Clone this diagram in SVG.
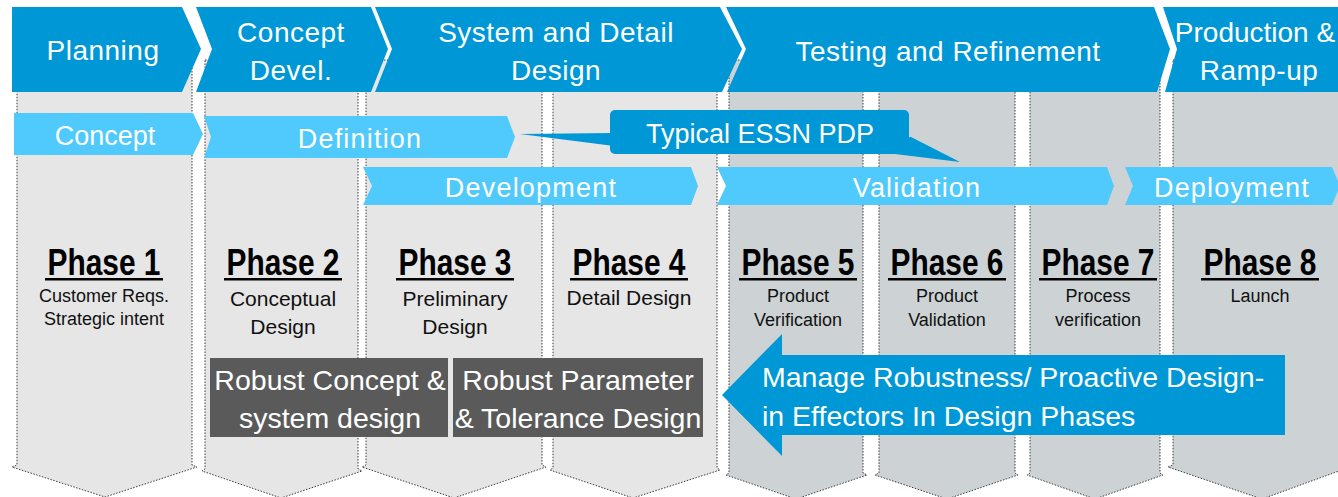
<svg xmlns="http://www.w3.org/2000/svg" width="1338" height="497" viewBox="0 0 1338 497">
  <style>
    .col-a { fill: #e6e6e6; stroke: #3a3a3a; stroke-width: 1; stroke-dasharray: 1.5 1.5; }
    .col-b { fill: #cdd3d4; stroke: #3a3a3a; stroke-width: 1; stroke-dasharray: 1.5 1.5; }
    .stage { fill: #0097d6; }
    .sub { fill: #50c9fc; }
    .dark { fill: #5a5a5a; }
    .t { font-family: "Liberation Sans", Arial, sans-serif; text-anchor: middle; }
    .hdr { font-size: 28px; fill: #ffffff; letter-spacing: 0.5px; }
    .bar { font-size: 27px; fill: #ffffff; }
    .wide { letter-spacing: 1.2px; }
    .ph { font-size: 36px; font-weight: bold; fill: #000000; }
    .ul { fill: #000000; }
    .d18 { font-size: 18px; fill: #111111; }
    .d21 { font-size: 21px; fill: #111111; }
    .box { font-size: 28.5px; fill: #ffffff; }
  </style>

  <rect width="1338" height="497" fill="#ffffff"/>

  <!-- phase columns (downward chevrons) -->
  <g id="columns">
    <polygon id="col1" class="col-a" points="17,60 192,60 192,465 197,467 105,497 12,467 17,465"/>
    <polygon id="col2" class="col-a" points="205,60 358,60 358,469 362,471 281,498 202,471 205,469"/>
    <polygon id="col3" class="col-a" points="366,60 542,60 542,465 546,467 454,498 362,467 366,465"/>
    <polygon id="col4" class="col-a" points="553,60 717,60 717,468 720,470 633,498 550,470 553,468"/>
    <polygon id="col5" class="col-b" points="729,60 863,60 863,473 867,475 796,499 726,475 729,473"/>
    <polygon id="col6" class="col-b" points="879,60 1015,60 1015,473 1018,475 947,499 875,475 879,473"/>
    <polygon id="col7" class="col-b" points="1030,60 1160,60 1160,473 1163,475 1095,499 1027,475 1030,473"/>
    <polygon id="col8" class="col-b" points="1173,60 1350,60 1350,467 1262,499 1168,467 1173,465"/>
  </g>

  <!-- stage headers -->
  <g id="stage-planning">
    <polygon class="stage" points="12,7 182,7 201,49 182,92 12,92"/>
    <text class="t hdr" x="103" y="60">Planning</text>
  </g>
  <g id="stage-concept-devel">
    <polygon class="stage" points="196,7 371,7 388,49 371,92 196,92 212,49"/>
    <text class="t hdr" x="291" y="42">Concept</text>
    <text class="t hdr" x="291" y="80">Devel.</text>
  </g>
  <g id="stage-system-detail">
    <polygon class="stage" points="375,7 720,7 742,49 722,92 375,92 392,49"/>
    <text class="t hdr" x="556" y="42">System and Detail</text>
    <text class="t hdr" x="556" y="80">Design</text>
  </g>
  <g id="stage-testing">
    <polygon class="stage" points="726,7 1154,7 1170,49 1157,92 727,92 746,49"/>
    <text class="t hdr" x="948" y="61">Testing and Refinement</text>
  </g>
  <g id="stage-production">
    <polygon class="stage" points="1163,7 1345,7 1345,92 1165,92 1177,49"/>
    <text class="t hdr" x="1255" y="42" style="letter-spacing:0">Production &amp;</text>
    <text class="t hdr" x="1259" y="80">Ramp-up</text>
  </g>

  <!-- sub-stage bars -->
  <g id="bar-concept">
    <polygon class="sub" points="14,113 193,113 203,134 193,155 14,155"/>
    <text class="t bar" x="105" y="145">Concept</text>
  </g>
  <g id="bar-definition">
    <polygon class="sub" points="204,116 507,116 515,137 507,158 204,158 211,137"/>
    <text class="t bar wide" x="360" y="148">Definition</text>
  </g>
  <g id="bar-development">
    <polygon class="sub" points="363,167 691,167 698,186 691,205 363,205 372,186"/>
    <text class="t bar wide" x="531" y="197">Development</text>
  </g>
  <g id="bar-validation">
    <polygon class="sub" points="717,167 1107,167 1114,186 1107,205 717,205 726,186"/>
    <text class="t bar wide" x="917" y="197">Validation</text>
  </g>
  <g id="bar-deployment">
    <polygon class="sub" points="1125,167 1332,167 1340,186 1332,205 1125,205 1133,186"/>
    <text class="t bar wide" x="1232" y="197">Deployment</text>
  </g>

  <!-- callout pointers -->
  <g id="connectors">
    <polygon class="stage" points="520,134 614,133 614,146"/>
    <polygon class="stage" points="900,138 911,137 960,162 895,154"/>
  </g>

  <g id="callout-pdp">
    <rect class="stage" x="610" y="110" width="299" height="44" rx="5"/>
    <text class="t bar" x="760" y="143">Typical ESSN PDP</text>
  </g>

  <!-- phase labels -->
  <g id="phase1">
    <text class="t ph" x="104" y="275" textLength="113" lengthAdjust="spacingAndGlyphs">Phase 1</text>
    <rect class="ul" x="45" y="278" width="118" height="2.5"/>
    <text class="t d18" x="104" y="302">Customer Reqs.</text>
    <text class="t d18" x="104" y="325">Strategic intent</text>
  </g>
  <g id="phase2">
    <text class="t ph" x="283" y="275" textLength="113" lengthAdjust="spacingAndGlyphs">Phase 2</text>
    <rect class="ul" x="224" y="278" width="118" height="2.5"/>
    <text class="t d21" x="283" y="306">Conceptual</text>
    <text class="t d21" x="283" y="334">Design</text>
  </g>
  <g id="phase3">
    <text class="t ph" x="455" y="275" textLength="113" lengthAdjust="spacingAndGlyphs">Phase 3</text>
    <rect class="ul" x="396" y="278" width="118" height="2.5"/>
    <text class="t d21" x="455" y="306">Preliminary</text>
    <text class="t d21" x="455" y="334">Design</text>
  </g>
  <g id="phase4">
    <text class="t ph" x="629" y="275" textLength="113" lengthAdjust="spacingAndGlyphs">Phase 4</text>
    <rect class="ul" x="570" y="278" width="118" height="2.5"/>
    <text class="t d21" x="629" y="305">Detail Design</text>
  </g>
  <g id="phase5">
    <text class="t ph" x="798" y="275" textLength="113" lengthAdjust="spacingAndGlyphs">Phase 5</text>
    <rect class="ul" x="739" y="278" width="118" height="2.5"/>
    <text class="t d18" x="798" y="302">Product</text>
    <text class="t d18" x="798" y="326">Verification</text>
  </g>
  <g id="phase6">
    <text class="t ph" x="947" y="275" textLength="113" lengthAdjust="spacingAndGlyphs">Phase 6</text>
    <rect class="ul" x="888" y="278" width="118" height="2.5"/>
    <text class="t d18" x="947" y="302">Product</text>
    <text class="t d18" x="947" y="326">Validation</text>
  </g>
  <g id="phase7">
    <text class="t ph" x="1098" y="275" textLength="113" lengthAdjust="spacingAndGlyphs">Phase 7</text>
    <rect class="ul" x="1039" y="278" width="118" height="2.5"/>
    <text class="t d18" x="1098" y="302">Process</text>
    <text class="t d18" x="1098" y="326">verification</text>
  </g>
  <g id="phase8">
    <text class="t ph" x="1260" y="275" textLength="113" lengthAdjust="spacingAndGlyphs">Phase 8</text>
    <rect class="ul" x="1201" y="278" width="118" height="2.5"/>
    <text class="t d18" x="1260" y="302">Launch</text>
  </g>

  <!-- robust design boxes -->
  <g id="box-concept-system">
    <rect class="dark" x="210" y="358" width="238" height="79"/>
    <text class="t box" x="330" y="390">Robust Concept &amp;</text>
    <text class="t box" x="330" y="428">system design</text>
  </g>
  <g id="box-parameter-tolerance">
    <rect class="dark" x="453" y="358" width="250" height="79"/>
    <text class="t box" x="578" y="390">Robust Parameter</text>
    <text class="t box" x="578" y="428">&amp; Tolerance Design</text>
  </g>

  <!-- feedback arrow -->
  <g id="arrow-robustness">
    <polygon class="stage" points="722,395 782,334 782,355 1285,355 1285,435 782,435 782,456"/>
    <text class="t box" x="762" y="387" style="text-anchor:start">Manage Robustness/ Proactive Design-</text>
    <text class="t box" x="762" y="426" style="text-anchor:start">in Effectors In Design Phases</text>
  </g>
</svg>
